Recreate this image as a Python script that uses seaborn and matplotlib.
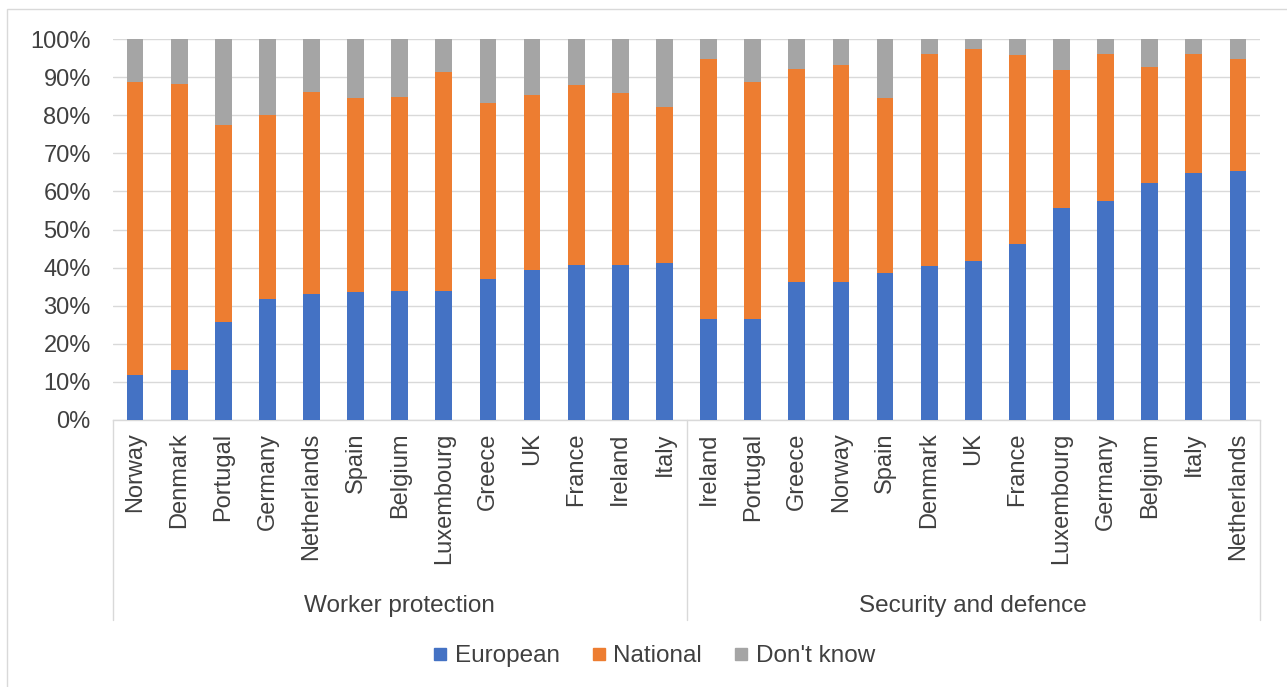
import pandas as pd
import matplotlib
matplotlib.use("Agg")
import matplotlib.pyplot as plt
from matplotlib.lines import Line2D
from matplotlib.patches import Rectangle
from matplotlib.ticker import PercentFormatter
import seaborn as sns

# --- data (in %) ---
groups = ["Worker protection", "Security and defence"]

countries_wp = ["Norway", "Denmark", "Portugal", "Germany", "Netherlands", "Spain", "Belgium",
                "Luxembourg", "Greece", "UK", "France", "Ireland", "Italy"]
european_wp = [11.9, 13.1, 25.7, 31.8, 33.1, 33.5, 33.9, 33.9, 37.0, 39.5, 40.8, 40.8, 41.3]
national_wp = [76.9, 75.2, 51.7, 48.2, 53.1, 50.9, 50.9, 57.5, 46.1, 45.8, 47.1, 44.9, 40.9]
dontknow_wp = [11.2, 11.7, 22.6, 20.0, 13.8, 15.6, 15.2, 8.6, 16.9, 14.7, 12.1, 14.3, 17.8]

countries_sd = ["Ireland", "Portugal", "Greece", "Norway", "Spain", "Denmark", "UK", "France",
                "Luxembourg", "Germany", "Belgium", "Italy", "Netherlands"]
european_sd = [26.6, 26.6, 36.1, 36.1, 38.7, 40.5, 41.8, 46.2, 55.7, 57.4, 62.2, 64.9, 65.3]
national_sd = [68.1, 62.2, 56.1, 57.0, 45.7, 55.6, 55.7, 49.5, 36.1, 38.7, 30.4, 31.2, 29.4]
dontknow_sd = [5.3, 11.2, 7.8, 6.9, 15.6, 3.9, 2.5, 4.3, 8.2, 3.9, 7.4, 3.9, 5.3]

series = ["European", "National", "Don't know"]
colors = {"European": "#4472C4", "National": "#ED7D31", "Don't know": "#A5A5A5"}


def build_frame():
    rows = []
    for grp, ctry, eu, na, dk in [(groups[0], countries_wp, european_wp, national_wp, dontknow_wp),
                                  (groups[1], countries_sd, european_sd, national_sd, dontknow_sd)]:
        for c, e, n, d in zip(ctry, eu, na, dk):
            rows.append({"group": grp, "country": c, "key": f"{grp}|{c}",
                         "European": e, "National": n, "Don't know": d})
    df = pd.DataFrame(rows)
    # cumulative tops for stacking
    df["top_eu"] = df["European"]
    df["top_na"] = df["European"] + df["National"]
    df["top_dk"] = df["top_na"] + df["Don't know"]
    return df


df = build_frame()
order = list(df["key"])

sns.set_style("white")
plt.rcParams["font.family"] = ["Liberation Sans", "DejaVu Sans"]

fig = plt.figure(figsize=(12.87, 6.87), dpi=100)
ax = fig.add_axes([113 / 1287, 1 - 420 / 687, (1260 - 113) / 1287, (420 - 39) / 687])

bw = 0.38
for col, name in [("top_dk", "Don't know"), ("top_na", "National"), ("top_eu", "European")]:
    sns.barplot(data=df, x="key", y=col, order=order, color=colors[name], saturation=1,
                width=bw, errorbar=None, linewidth=0, ax=ax, zorder=3)

ax.set_ylim(0, 100)
ax.set_xlim(-0.5, len(order) - 0.5)
ax.set_yticks(range(0, 101, 10))
ax.yaxis.set_major_formatter(PercentFormatter(decimals=0))
ax.grid(axis="y", color="#D9D9D9", linewidth=1.0, zorder=0)
ax.set_axisbelow(True)
for s in ["left", "right", "top"]:
    ax.spines[s].set_visible(False)
ax.spines["bottom"].set_color("#D9D9D9")
ax.spines["bottom"].set_linewidth(1.0)

ax.set_xticks(range(len(order)))
ax.set_xticklabels(df["country"], rotation=90, fontsize=17, color="#404040", va="top", ha="center")
ax.tick_params(axis="x", length=0, pad=9)
ax.tick_params(axis="y", length=0, pad=16, labelsize=17, labelcolor="#404040")
ax.set_xlabel("")
ax.set_ylabel("")

# multi-level category axis: separators and group labels
n_wp = len(countries_wp)
trans = ax.get_xaxis_transform()
for xpos in [-0.5, n_wp - 0.5, len(order) - 0.5]:
    ax.plot([xpos, xpos], [0, -0.525], transform=trans, color="#D9D9D9", lw=1.0, clip_on=False)
ax.text((n_wp - 1) / 2, -0.487, groups[0], transform=trans, ha="center", va="center",
        fontsize=17.5, color="#404040")
ax.text(n_wp + (len(countries_sd) - 1) / 2, -0.487, groups[1], transform=trans, ha="center",
        va="center", fontsize=17.5, color="#404040")

# legend
handles = [Line2D([0], [0], marker="s", linestyle="", markersize=8, color=colors[s]) for s in series]
fig.legend(handles, series, loc="center", bbox_to_anchor=(654 / 1287, 1 - 656 / 687), ncol=3,
           frameon=False, fontsize=17.5, handlelength=0.6, handletextpad=0.3,
           columnspacing=1.3, labelcolor="#404040")

# chart border
fig.patches.append(Rectangle((7 / 1287, -0.1), 1.2, 1 - 9 / 687 + 0.1, transform=fig.transFigure,
                             fill=False, edgecolor="#D9D9D9", lw=1.0))

fig.savefig("out.png", dpi=100)
